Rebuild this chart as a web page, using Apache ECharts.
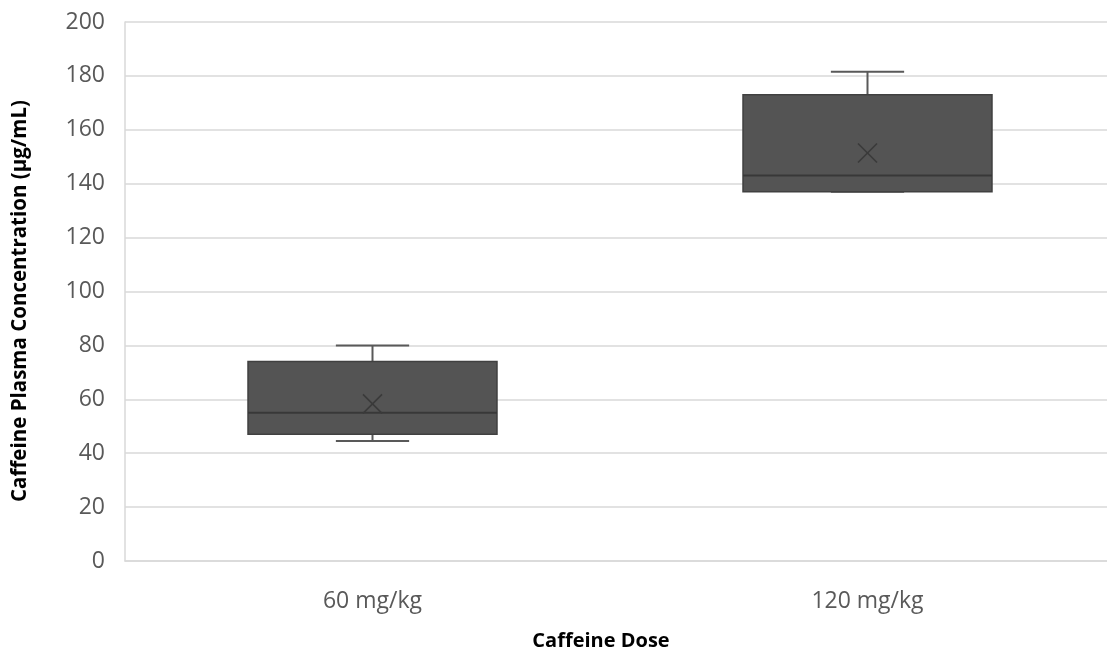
<!DOCTYPE html>
<html>
<head>
<meta charset="utf-8">
<script src="https://cdn.jsdelivr.net/npm/echarts@6/dist/echarts.min.js"></script>
<style>html,body{margin:0;padding:0;background:#fff;overflow:hidden;}#c{width:1107px;height:652px;}</style>
</head>
<body>
<div id="c"></div>
<script>
const categories = ['60 mg/kg', '120 mg/kg'];
const mins = [44.5, 137];
const q1s = [47, 137];
const medians = [55, 143];
const q3s = [74, 173];
const maxs = [80, 181.5];
const means = [58.3, 151.4];
const yTicks = [0, 20, 40, 60, 80, 100, 120, 140, 160, 180, 200];

const boxData = categories.map((c, i) => [i, mins[i], q1s[i], medians[i], q3s[i], maxs[i], means[i]]);

const chart = echarts.init(document.getElementById('c'));
const FONT = 'Open Sans';

function renderBox(params, api) {
  const idx = api.value(0);
  const band = api.size([1, 0])[0];
  const bw = band * 0.503;
  const capW = band * 0.148;
  const x = api.coord([idx, 0])[0];
  const yMin = api.coord([idx, api.value(1)])[1];
  const yQ1 = api.coord([idx, api.value(2)])[1];
  const yMed = api.coord([idx, api.value(3)])[1];
  const yQ3 = api.coord([idx, api.value(4)])[1];
  const yMax = api.coord([idx, api.value(5)])[1];
  const yMean = api.coord([idx, api.value(6)])[1];
  const wStyle = {stroke: '#595959', lineWidth: 2};
  const m = 9.5;
  return {
    type: 'group',
    children: [
      {type: 'line', shape: {x1: x, y1: yQ3, x2: x, y2: yMax}, style: wStyle},
      {type: 'line', shape: {x1: x - capW / 2, y1: yMax, x2: x + capW / 2, y2: yMax}, style: wStyle},
      {type: 'line', shape: {x1: x, y1: yQ1, x2: x, y2: yMin}, style: wStyle},
      {type: 'line', shape: {x1: x - capW / 2, y1: yMin, x2: x + capW / 2, y2: yMin}, style: wStyle},
      {type: 'rect', shape: {x: x - bw / 2, y: yQ3, width: bw, height: yQ1 - yQ3},
        style: {fill: '#545454', stroke: '#404040', lineWidth: 1.5}},
      {type: 'line', shape: {x1: x - bw / 2, y1: yMed, x2: x + bw / 2, y2: yMed},
        style: {stroke: '#383838', lineWidth: 2}},
      {type: 'line', shape: {x1: x - m, y1: yMean - m, x2: x + m, y2: yMean + m},
        style: {stroke: '#3a3a3a', lineWidth: 1.6}},
      {type: 'line', shape: {x1: x - m, y1: yMean + m, x2: x + m, y2: yMean - m},
        style: {stroke: '#3a3a3a', lineWidth: 1.6}}
    ]
  };
}

chart.setOption({
  animation: false,
  backgroundColor: '#ffffff',
  grid: {left: 125, width: 990, top: 22, height: 539, containLabel: false, outerBoundsMode: 'none'},
  xAxis: {
    type: 'category',
    data: categories,
    axisLine: {show: true, lineStyle: {color: '#d9d9d9', width: 1.5}},
    axisTick: {show: false},
    axisLabel: {color: '#595959', fontFamily: FONT, fontSize: 23, margin: 29}
  },
  yAxis: {
    type: 'value',
    min: 0, max: 200, interval: 20,
    axisLine: {show: true, lineStyle: {color: '#d9d9d9', width: 1.5}},
    axisTick: {show: false},
    splitLine: {show: true, lineStyle: {color: '#d9d9d9', width: 1.5}},
    axisLabel: {color: '#595959', fontFamily: FONT, fontSize: 23, margin: 20,
      formatter: v => (yTicks.indexOf(v) >= 0 ? String(v) : '')}
  },
  graphic: [
    {type: 'text', x: 601, y: 641,
      style: {text: 'Caffeine Dose', fontFamily: FONT, fontWeight: 'bold', fontSize: 20, fill: '#000', align: 'center', verticalAlign: 'middle'}},
    {type: 'text', x: 20, y: 301, rotation: Math.PI / 2, originX: 0, originY: 0,
      style: {text: 'Caffeine Plasma Concentration (µg/mL)', fontFamily: FONT, fontWeight: 'bold', fontSize: 20.5,
        fill: '#000', align: 'center', verticalAlign: 'middle'}}
  ],
  series: [{
    type: 'custom',
    renderItem: renderBox,
    clip: false,
    encode: {x: 0, y: [1, 2, 3, 4, 5, 6]},
    data: boxData
  }]
});
</script>
</body>
</html>
